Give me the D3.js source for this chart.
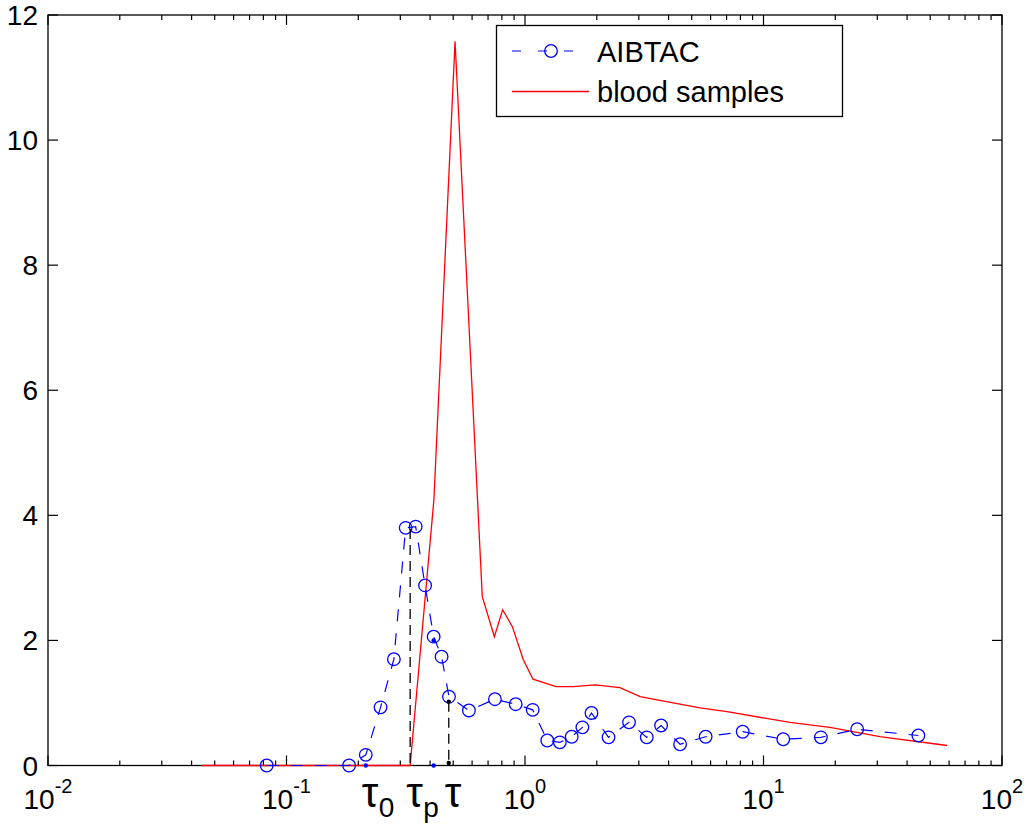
<!DOCTYPE html>
<html>
<head>
<meta charset="utf-8">
<script src="https://cdn.jsdelivr.net/npm/d3@7"></script>
<style>
  body { margin: 0; background: #fff; }
  text { font-family: "Liberation Sans", Arial, Helvetica, sans-serif; }
</style>
</head>
<body>
<svg id="chart" width="1026" height="826"></svg>
<script>
// AIBTAC curve (time, value)
const aibtacT = [0.0826, 0.183, 0.215, 0.248, 0.282, 0.316, 0.348, 0.381, 0.414, 0.447, 0.480,
  0.582, 0.748, 0.914, 1.077, 1.24, 1.40, 1.57, 1.74, 1.90, 2.24, 2.73, 3.24, 3.72, 4.47,
  5.72, 8.18, 12.1, 17.4, 24.7, 44.6]
const aibtacV = [0, 0, 0.17, 0.93, 1.70, 3.80, 3.82, 2.88, 2.06, 1.74, 1.10,
  0.88, 1.06, 0.98, 0.89, 0.40, 0.37, 0.46, 0.61, 0.84, 0.45, 0.69, 0.45, 0.64, 0.34,
  0.46, 0.54, 0.42, 0.45, 0.58, 0.48]

// blood samples curve
const bloodT = [0.044, 0.33, 0.415, 0.509, 0.662, 0.744, 0.806, 0.885, 0.984, 1.08, 1.35,
  1.59, 1.97, 2.5, 3.04, 3.58, 5.42, 7.03, 12.9, 19.0, 30.8, 58.8]
const bloodV = [0, 0, 4.25, 11.58, 2.70, 2.06, 2.49, 2.22, 1.69, 1.38, 1.26,
  1.26, 1.29, 1.245, 1.10, 1.05, 0.92, 0.86, 0.69, 0.61, 0.46, 0.32]

// markers for tau0, taup, tau
const guideT = [0.33, 0.479]
const guideTop = [3.78, 1.02]
const blueDotT = [0.215, 0.414, 0.414]
const blueDotV = [0, 0, 2.0]
const blackDotT = [0.479, 0.479]
const blackDotV = [1.02, 0.04]
const tauT = [0.215, 0.33, 0.479]
const tauSub = ['0', 'p', '']

const xTicks = [0.01, 0.1, 1, 10, 100]
const xExp = ['-2', '-1', '0', '1', '2']
const yTicks = [0, 2, 4, 6, 8, 10, 12]
const legendNames = ['AIBTAC', 'blood samples']

const width = 1026
const height = 826
const margin = { top: 15, right: 24, bottom: 60.5, left: 48 }

const svg = d3.select('#chart')

const x = d3.scaleLog()
  .domain([0.01, 100])
  .range([margin.left, width - margin.right])

const y = d3.scaleLinear()
  .domain([0, 12])
  .range([height - margin.bottom, margin.top])

const x0 = margin.left, x1 = width - margin.right
const y0 = height - margin.bottom, y1 = margin.top

// ticks (inside, on all four sides)
const ticks = svg.append('g').attr('stroke', '#000').attr('stroke-width', 1.2)
const minor = []
for (let d = -2; d < 2; d++) {
  for (let k = 2; k <= 9; k++) minor.push(k * Math.pow(10, d))
}
minor.forEach(v => {
  ticks.append('line').attr('x1', x(v)).attr('x2', x(v)).attr('y1', y0).attr('y2', y0 - 5)
  ticks.append('line').attr('x1', x(v)).attr('x2', x(v)).attr('y1', y1).attr('y2', y1 + 5)
})
xTicks.forEach(v => {
  ticks.append('line').attr('x1', x(v)).attr('x2', x(v)).attr('y1', y0).attr('y2', y0 - 10)
  ticks.append('line').attr('x1', x(v)).attr('x2', x(v)).attr('y1', y1).attr('y2', y1 + 10)
})
yTicks.forEach(v => {
  ticks.append('line').attr('x1', x0).attr('x2', x0 + 10).attr('y1', y(v)).attr('y2', y(v))
  ticks.append('line').attr('x1', x1).attr('x2', x1 - 10).attr('y1', y(v)).attr('y2', y(v))
})

svg.append('rect')
  .attr('x', x0).attr('y', y1)
  .attr('width', x1 - x0).attr('height', y0 - y1)
  .attr('fill', 'none').attr('stroke', '#000').attr('stroke-width', 1.3)

// tick labels
xTicks.forEach((v, i) => {
  const t = svg.append('text')
    .attr('x', x(v)).attr('y', y0 + 43.5)
    .attr('text-anchor', 'middle')
    .attr('font-size', 28)
  t.append('tspan').text('10')
  t.append('tspan').attr('dy', -16).attr('font-size', 20).text(xExp[i])
})
yTicks.forEach(v => {
  svg.append('text')
    .attr('x', x0 - 10).attr('y', y(v))
    .attr('dy', '0.36em')
    .attr('text-anchor', 'end')
    .attr('font-size', 28)
    .text(v)
})

// blood samples
const bloodLine = d3.line()
  .x((d, i) => x(bloodT[i]))
  .y(d => y(d))
svg.append('path')
  .datum(bloodV)
  .attr('d', bloodLine)
  .attr('fill', 'none')
  .attr('stroke', '#ff0000')
  .attr('stroke-width', 1.3)

// AIBTAC
const aibLine = d3.line()
  .x((d, i) => x(aibtacT[i]))
  .y(d => y(d))
svg.append('path')
  .datum(aibtacV)
  .attr('d', aibLine)
  .attr('fill', 'none')
  .attr('stroke', '#0000ff')
  .attr('stroke-width', 1.2)
  .attr('stroke-dasharray', '12,12')

svg.append('g').selectAll('circle')
  .data(aibtacV)
  .enter()
  .append('circle')
  .attr('cx', (d, i) => x(aibtacT[i]))
  .attr('cy', d => y(d))
  .attr('r', 6.3)
  .attr('fill', 'none')
  .attr('stroke', '#0000ff')
  .attr('stroke-width', 1.3)

// guide lines
guideT.forEach((t, i) => {
  svg.append('line')
    .attr('x1', x(t)).attr('x2', x(t))
    .attr('y1', y(guideTop[i])).attr('y2', y(0))
    .attr('stroke', '#000')
    .attr('stroke-width', 1.3)
    .attr('stroke-dasharray', '10,6')
})
blueDotT.forEach((t, i) => {
  svg.append('circle')
    .attr('cx', x(t)).attr('cy', y(blueDotV[i]))
    .attr('r', 2.2).attr('fill', '#0000ff')
})
blackDotT.forEach((t, i) => {
  svg.append('circle')
    .attr('cx', x(t)).attr('cy', y(blackDotV[i]))
    .attr('r', 2.2).attr('fill', '#000')
})

// tau labels (symbol, then a lowered subscript)
tauT.forEach((t, i) => {
  svg.append('text')
    .attr('x', x(t) - 4).attr('y', y0 + 41.5)
    .attr('font-family', '"DejaVu Sans", sans-serif')
    .attr('font-size', 42)
    .text('τ')
  if (tauSub[i]) {
    svg.append('text')
      .attr('x', x(t) + 13).attr('y', y0 + 51)
      .attr('font-size', 28)
      .text(tauSub[i])
  }
})

// legend
const lg = svg.append('g')
lg.append('rect')
  .attr('x', 496.5).attr('y', 25.5)
  .attr('width', 346).attr('height', 91)
  .attr('fill', '#fff').attr('stroke', '#000').attr('stroke-width', 1.3)
lg.append('line')
  .attr('x1', 512).attr('x2', 589).attr('y1', 51).attr('y2', 51)
  .attr('stroke', '#0000ff').attr('stroke-width', 1.2).attr('stroke-dasharray', '9,17')
lg.append('circle')
  .attr('cx', 551).attr('cy', 51).attr('r', 6.3)
  .attr('fill', 'none').attr('stroke', '#0000ff').attr('stroke-width', 1.3)
lg.append('line')
  .attr('x1', 512).attr('x2', 589).attr('y1', 91.5).attr('y2', 91.5)
  .attr('stroke', '#ff0000').attr('stroke-width', 1.3)
legendNames.forEach((name, i) => {
  lg.append('text')
    .attr('x', 597).attr('y', 61.5 + i * 40)
    .attr('font-size', 29)
    .text(name)
})
</script>
</body>
</html>
